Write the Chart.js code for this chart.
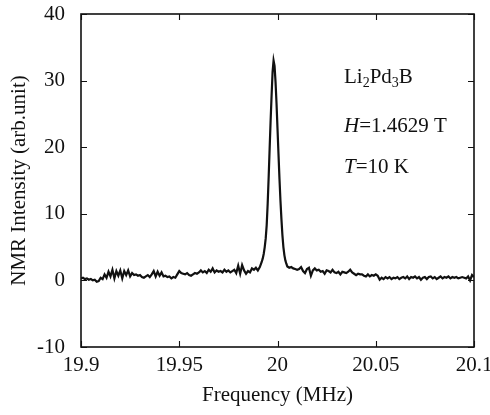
<!DOCTYPE html>
<html><head><meta charset="utf-8">
<script src="https://cdn.jsdelivr.net/npm/chart.js@4/dist/chart.umd.min.js"></script>
<style>html,body{margin:0;padding:0;background:#fff;}#wrap{width:490px;height:415px;}</style>
</head><body><div id="wrap"><canvas id="c" width="490" height="415"></canvas></div>
<script>
const freqLeft = [19.900,19.901,19.902,19.903,19.904,19.905,19.906,19.907,19.908,19.909,
19.910,19.911,19.912,19.913,19.914,19.915,19.916,19.917,19.918,19.919,
19.920,19.921,19.922,19.923,19.924,19.925,19.926,19.927,19.928,19.929,
19.930,19.931,19.932,19.933,19.934,19.935,19.936,19.937,19.938,19.939,
19.940,19.941,19.942,19.943,19.944,19.945,19.946,19.947,19.948,19.949,
19.950,19.951,19.952,19.953,19.954,19.955,19.956,19.957,19.958,19.959,
19.960,19.961,19.962,19.963,19.964,19.965,19.966,19.967,19.968,19.969,
19.970,19.971,19.972,19.973,19.974,19.975,19.976,19.977,19.978,19.979,
19.980,19.981,19.982,19.983,19.984,19.985,19.986,19.987,19.988,19.989,
19.990,19.991];
const intensityLeft = [0.3,0.4,0.2,0.3,0.1,0.2,0.0,0.1,-0.2,-0.1,
0.4,0.2,0.9,0.4,1.3,0.6,1.6,0.3,1.4,0.7,
1.5,0.3,1.4,0.8,1.5,0.6,1.1,0.8,0.9,0.7,
0.8,0.5,0.4,0.6,0.8,0.5,0.9,1.4,0.6,1.3,
0.7,1.2,0.6,0.7,0.5,0.6,0.3,0.5,0.4,0.9,
1.4,1.1,1.0,0.9,1.1,0.8,0.7,0.9,1.1,1.0,
1.2,1.5,1.2,1.4,1.1,1.6,1.3,1.8,1.2,1.5,
1.3,1.4,1.2,1.6,1.3,1.5,1.2,1.4,1.6,1.1,
2.2,1.0,2.3,1.5,1.0,1.4,1.2,1.8,1.6,1.9,
1.5,2.0];
const freqPeak = [19.9915,19.992,19.9925,19.993,19.9935,19.994,19.9945,19.995,19.9955,19.996,
19.9965,19.997,19.9975,19.998,19.9985,19.999,19.9995,20.000,20.0005,20.001,
20.0015,20.002,20.0025,20.003,20.0035,20.004,20.0045];
const intensityPeak = [2.4,2.8,3.3,4.0,5.0,6.3,8.3,11.5,15.5,19.8,
24.0,27.8,31.3,33.0,32.2,29.8,26.6,22.8,19.0,15.3,
12.0,9.2,6.8,5.0,3.8,3.0,2.5];
const freqRight = [20.005,20.006,20.007,20.008,20.009,20.010,20.011,20.012,20.013,20.014,
20.015,20.016,20.017,20.018,20.019,20.020,20.021,20.022,20.023,20.024,
20.025,20.026,20.027,20.028,20.029,20.030,20.031,20.032,20.033,20.034,
20.035,20.036,20.037,20.038,20.039,20.040,20.041,20.042,20.043,20.044,
20.045,20.046,20.047,20.048,20.049,20.050,20.051,20.052,20.053,20.054,
20.055,20.056,20.057,20.058,20.059,20.060,20.061,20.062,20.063,20.064,
20.065,20.066,20.067,20.068,20.069,20.070,20.071,20.072,20.073,20.074,
20.075,20.076,20.077,20.078,20.079,20.080,20.081,20.082,20.083,20.084,
20.085,20.086,20.087,20.088,20.089,20.090,20.091,20.092,20.093,20.094,
20.095,20.096,20.097,20.098,20.099,20.100];
const intensityRight = [2.1,1.9,2.0,1.8,1.7,1.6,1.7,2.0,1.4,1.1,
1.7,1.9,0.7,1.5,1.8,1.5,1.6,1.3,1.4,1.0,
1.5,1.4,1.2,1.6,1.2,1.1,1.3,0.9,1.3,1.2,
1.1,1.3,1.6,1.2,1.0,0.8,1.0,0.9,0.9,0.7,
0.6,0.9,0.6,0.8,0.7,0.9,0.7,0.1,0.4,0.2,
0.5,0.3,0.5,0.2,0.4,0.3,0.5,0.2,0.4,0.5,
0.3,0.6,0.2,0.5,0.4,0.6,0.3,0.5,0.1,0.4,
0.5,0.2,0.5,0.6,0.3,0.5,0.2,0.4,0.6,0.3,
0.5,0.4,0.6,0.3,0.5,0.4,0.5,0.3,0.4,0.5,
0.4,0.3,0.6,0.0,0.8,0.5];

const xTickValues = [19.9, 19.95, 20, 20.05, 20.1];
const xTickLabels = ['19.9', '19.95', '20', '20.05', '20.1'];
const yTickValues = [-10, 0, 10, 20, 30, 40];
const yTickLabels = ['-10', '0', '10', '20', '30', '40'];
const xTitle = 'Frequency (MHz)';
const yTitle = 'NMR Intensity (arb.unit)';

const freqAll = freqLeft.concat(freqPeak, freqRight);
const intensityAll = intensityLeft.concat(intensityPeak, intensityRight);
const points = freqAll.map((f, i) => ({x: f, y: intensityAll[i]}));

const FONT = "'Liberation Serif', 'Times New Roman', serif";
const INK = '#111';

const framePlugin = {
  id: 'frame',
  afterDraw(chart) {
    const {ctx, chartArea: a, scales: {x, y}} = chart;
    ctx.save();
    ctx.strokeStyle = INK;
    ctx.lineWidth = 1.6;
    ctx.strokeRect(a.left, a.top, a.right - a.left, a.bottom - a.top);
    ctx.lineWidth = 1.1;
    const L = 6;
    ctx.beginPath();
    xTickValues.forEach(v => {
      const p = Math.round(x.getPixelForValue(v)) + 0.5;
      ctx.moveTo(p, a.bottom); ctx.lineTo(p, a.bottom - L);
      ctx.moveTo(p, a.top); ctx.lineTo(p, a.top + L);
    });
    yTickValues.forEach(v => {
      const p = Math.round(y.getPixelForValue(v)) + 0.5;
      ctx.moveTo(a.left, p); ctx.lineTo(a.left + L, p);
      ctx.moveTo(a.right, p); ctx.lineTo(a.right - L, p);
    });
    ctx.stroke();

    // annotations
    ctx.fillStyle = INK;
    ctx.textBaseline = 'alphabetic';
    ctx.textAlign = 'left';
    const tx = 344;
    let cx = tx;
    const big = "21px " + FONT, small = "14px " + FONT, ital = "italic 21px " + FONT;
    const seg = (t, f, dy) => { ctx.font = f; ctx.fillText(t, cx, a.top + dy); cx += ctx.measureText(t).width; };
    seg('Li', big, 69); seg('2', small, 73); seg('Pd', big, 69); seg('3', small, 73); seg('B', big, 69);
    cx = tx; seg('H', ital, 118); seg('=1.4629 T', big, 118);
    cx = tx; seg('T', ital, 159); seg('=10 K', big, 159);
    ctx.restore();
  }
};

new Chart(document.getElementById('c'), {
  type: 'line',
  data: {
    datasets: [{
      data: points,
      borderColor: INK,
      borderWidth: 2.2,
      pointRadius: 0,
      tension: 0,
      fill: false
    }]
  },
  options: {
    responsive: false,
    animation: false,
    devicePixelRatio: 1,
    layout: {padding: {top: 14, right: 16, left: 0, bottom: 0}},
    plugins: {legend: {display: false}, tooltip: {enabled: false}},
    scales: {
      x: {
        type: 'linear', min: 19.9, max: 20.1,
        afterBuildTicks: s => { s.ticks = xTickValues.map(v => ({value: v})); },
        afterFit: s => { s.height = 68; s.paddingLeft = 0; s.paddingRight = 0; },
        grid: {display: false, drawTicks: false},
        border: {display: false},
        ticks: {
          callback: (v, i) => xTickLabels[i],
          font: {family: FONT, size: 21}, color: INK, padding: 6, maxRotation: 0, autoSkip: false
        },
        title: {display: true, text: xTitle, font: {family: FONT, size: 21}, color: INK, padding: {top: 0, bottom: 7}}
      },
      y: {
        type: 'linear', min: -10, max: 40,
        afterBuildTicks: s => { s.ticks = yTickValues.map(v => ({value: v})); },
        afterFit: s => { s.width = 81; s.paddingTop = 0; s.paddingBottom = 0; },
        grid: {display: false, drawTicks: false},
        border: {display: false},
        ticks: {
          callback: (v, i) => yTickLabels[i],
          font: {family: FONT, size: 21}, color: INK, padding: 16, autoSkip: false
        },
        title: {display: true, text: yTitle, font: {family: FONT, size: 21}, color: INK, padding: {top: 7, bottom: 0}}
      }
    }
  },
  plugins: [framePlugin]
});
</script></body></html>
